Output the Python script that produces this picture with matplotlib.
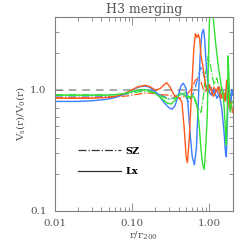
import matplotlib
matplotlib.use("Agg")
import matplotlib.pyplot as plt
from matplotlib.lines import Line2D

plt.rcParams['font.family'] = ['DejaVu Serif']
plt.rcParams['mathtext.fontset'] = 'dejavuserif'

# ---- data (r / r200, ratio) ----
r_blue = [0.010, 0.020, 0.030, 0.045, 0.060, 0.080, 0.100, 0.120, 0.140, 0.160,
          0.190, 0.220, 0.260, 0.300, 0.330, 0.360, 0.400, 0.430, 0.460, 0.500,
          0.530, 0.560, 0.600, 0.640, 0.680, 0.720, 0.760, 0.800, 0.840, 0.870,
          0.900, 0.950, 1.000, 1.080, 1.150, 1.250, 1.350, 1.450, 1.550, 1.620,
          1.660, 1.700, 1.750, 1.800, 1.850, 1.900, 1.950, 2.000]
lx_blue = [0.80, 0.80, 0.81, 0.83, 0.86, 0.92, 0.99, 1.05, 1.07, 1.06,
           1.00, 0.90, 0.78, 0.71, 0.69, 0.74, 0.92, 1.08, 1.13, 1.02,
           0.75, 0.45, 0.28, 0.24, 0.33, 0.80, 1.90, 2.90, 3.15, 2.60,
           1.80, 1.20, 0.95, 0.90, 1.00, 0.85, 0.92, 0.70, 0.45, 0.30,
           0.28, 0.45, 0.90, 1.10, 0.80, 0.70, 1.00, 0.90]

r_orange = [0.010, 0.020, 0.030, 0.045, 0.060, 0.080, 0.100, 0.120, 0.147, 0.170,
            0.200, 0.230, 0.260, 0.280, 0.310, 0.350, 0.400, 0.440, 0.470, 0.500,
            0.520, 0.550, 0.590, 0.630, 0.660, 0.690, 0.720, 0.750, 0.780, 0.820,
            0.860, 0.900, 0.950, 1.000, 1.060, 1.120, 1.200, 1.300, 1.400, 1.500,
            1.600, 1.680, 1.750, 1.820, 1.900, 2.000]
lx_orange = [0.85, 0.85, 0.85, 0.86, 0.88, 0.93, 1.00, 1.06, 1.085, 1.06,
             0.99, 1.02, 1.10, 1.14, 1.05, 0.90, 0.86, 0.80, 0.50, 0.28,
             0.25, 0.40, 1.00, 2.20, 2.90, 2.70, 2.85, 2.60, 1.90, 1.60,
             1.30, 1.05, 0.95, 1.10, 1.00, 0.88, 0.95, 1.05, 0.85, 0.95,
             0.80, 1.20, 0.90, 0.70, 0.80, 0.65]

r_green = [0.010, 0.020, 0.030, 0.045, 0.060, 0.080, 0.100, 0.130, 0.160, 0.200,
           0.240, 0.280, 0.320, 0.360, 0.400, 0.450, 0.500, 0.550, 0.600, 0.650,
           0.700, 0.740, 0.780, 0.820, 0.860, 0.900, 0.940, 0.970, 1.000, 1.030,
           1.080, 1.120, 1.200, 1.300, 1.390, 1.450, 1.500, 1.560, 1.620, 1.660,
           1.710, 1.750, 1.800, 1.860, 1.930, 2.000]
lx_green = [0.90, 0.90, 0.90, 0.90, 0.91, 0.93, 0.97, 1.00, 0.99, 0.93,
            0.85, 0.78, 0.76, 0.82, 0.90, 0.92, 0.88, 0.85, 0.90, 0.85,
            0.70, 0.50, 0.32, 0.24, 0.22, 0.35, 0.60, 1.60, 3.50, 5.00,
            5.00, 4.00, 2.50, 1.60, 1.20, 1.00, 0.95, 0.70, 0.45, 0.35,
            0.70, 1.90, 1.20, 0.65, 0.75, 0.80]

r_sz = [0.01, 0.03, 0.06, 0.09, 0.12, 0.15, 0.19, 0.24, 0.30, 0.36,
        0.42, 0.48, 0.54, 0.60, 0.66, 0.72, 0.78, 0.84, 0.90, 0.97,
        1.05, 1.15, 1.25, 1.35, 1.45, 1.55, 1.65, 1.75, 1.85, 2.00]
sz_blue = [0.87, 0.87, 0.88, 0.93, 0.99, 1.01, 0.97, 0.90, 0.84, 0.86,
           0.95, 0.90, 0.80, 0.88, 1.05, 1.30, 1.55, 1.35, 1.10, 0.95,
           1.05, 0.90, 1.00, 0.85, 1.05, 0.90, 0.80, 1.05, 0.85, 1.00]
sz_orange = [0.86, 0.86, 0.87, 0.89, 0.92, 0.94, 0.93, 0.91, 0.90, 0.87,
             0.85, 0.88, 0.95, 1.05, 1.20, 1.25, 1.15, 1.00, 0.95, 1.00,
             0.90, 1.05, 0.95, 1.05, 0.85, 0.90, 0.95, 0.80, 0.75, 0.70]
sz_green = [0.91, 0.91, 0.91, 0.93, 0.96, 0.97, 0.95, 0.88, 0.83, 0.85,
            0.93, 0.95, 0.88, 0.85, 0.80, 0.70, 0.65, 0.90, 1.40, 1.90,
            1.50, 1.10, 1.25, 1.00, 0.90, 0.95, 0.85, 1.00, 0.90, 0.95]

BLUE, ORANGE, GREEN = '#3c7cff', '#ff5a1e', '#33e033'
GREY = '#808080'
TXT = '#555555'

fig = plt.figure(figsize=(2.49, 2.49), dpi=100)
ax = fig.add_axes([0.221, 0.153, 0.713, 0.78])

ax.axhline(1.0, color='#aaaaaa', lw=1.4, ls=(0, (4, 3)), zorder=1)

ax.plot(r_sz, sz_blue, color=BLUE, lw=0.9, ls='-.')
ax.plot(r_sz, sz_orange, color=ORANGE, lw=0.9, ls='-.')
ax.plot(r_sz, sz_green, color=GREEN, lw=0.9, ls='-.')
ax.plot(r_blue, lx_blue, color=BLUE, lw=1.0)
ax.plot(r_orange, lx_orange, color=ORANGE, lw=1.0)
ax.plot(r_green, lx_green, color=GREEN, lw=1.0)

ax.set_xscale('log')
ax.set_yscale('log')
ax.set_xlim(0.01, 2.0)
ax.set_ylim(0.1, 4.0)

ax.set_xticks([0.01, 0.1, 1.0])
ax.set_xticklabels(['0.01', '0.10', '1.00'])
ax.set_yticks([0.1, 1.0])
ax.set_yticklabels(['0.1', '1.0'])
ax.yaxis.set_minor_formatter(matplotlib.ticker.NullFormatter())
ax.xaxis.set_minor_formatter(matplotlib.ticker.NullFormatter())
ax.tick_params(which='both', direction='in', top=True, right=True,
               colors=GREY, labelcolor=TXT, labelsize=7.5, width=0.6)
ax.tick_params(which='major', length=6, pad=6)
ax.tick_params(which='minor', length=3)
for s in ax.spines.values():
    s.set_color(GREY)
    s.set_linewidth(0.8)

ax.set_title('H3 merging', fontsize=9, color=TXT, pad=3)
ax.set_xlabel(r'r/r$_{\mathrm{200}}$', fontsize=7.5, color=TXT, labelpad=1)
ax.set_ylabel(r'V$_{\mathrm{s}}$(r)/V$_{\mathrm{0}}$(r)', fontsize=7.5, color=TXT, labelpad=2)

handles = [Line2D([], [], color='#333333', lw=0.9, ls='-.'),
           Line2D([], [], color='#333333', lw=0.9)]
leg = ax.legend(handles, ['SZ', 'Lx'], loc='upper left', bbox_to_anchor=(0.13, 0.33),
                frameon=False, borderpad=0, borderaxespad=0, handlelength=4.4,
                handletextpad=0.5, labelspacing=1.2,
                prop={'size': 7, 'weight': 'bold'})

fig.savefig('out.png', dpi=100)
